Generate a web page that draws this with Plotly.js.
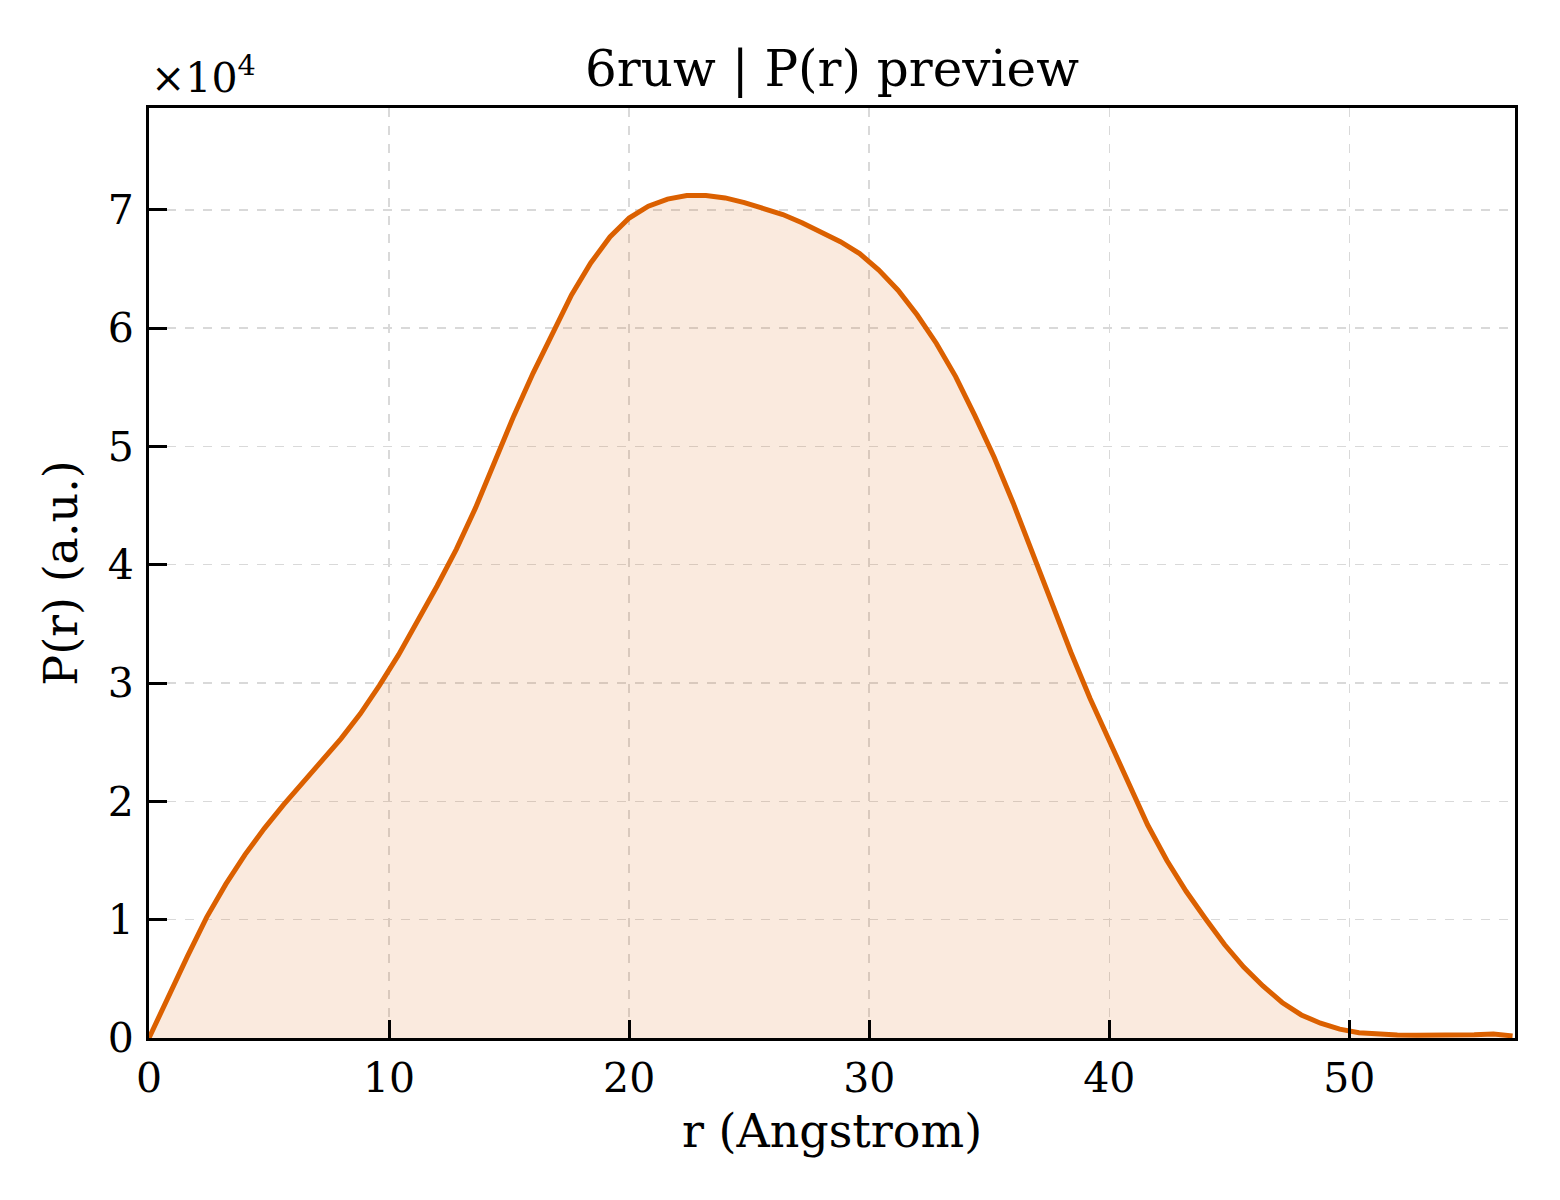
<!DOCTYPE html>
<html>
<head>
<meta charset="utf-8">
<script src="https://cdn.plot.ly/plotly-3.0.1.min.js"></script>
<style>
  html, body { margin: 0; padding: 0; background: #fff; }
  #paper { width: 1560px; height: 1200px; }
</style>
</head>
<body>
<div id="paper"></div>
<script>
"use strict"

// r in Angstrom
var r_values = [
    0, 0.8, 1.6, 2.4, 3.2, 4.0, 4.8, 5.6, 6.4, 7.2,
    8.0, 8.8, 9.6, 10.4, 11.2, 12.0, 12.8, 13.6, 14.4, 15.2,
    16.0, 16.8, 17.6, 18.4, 19.2, 20.0, 20.8, 21.6, 22.4, 23.2,
    24.0, 24.8, 25.6, 26.4, 27.2, 28.0, 28.8, 29.6, 30.4, 31.2,
    32.0, 32.8, 33.6, 34.4, 35.2, 36.0, 36.8, 37.6, 38.4, 39.2,
    40.0, 40.8, 41.6, 42.4, 43.2, 44.0, 44.8, 45.6, 46.4, 47.2,
    48.0, 48.8, 49.6, 50.4, 51.2, 52.0, 52.8, 53.6, 54.4, 55.2,
    56.0, 56.8
];

// P(r), arbitrary units
var pr_values = [
    0, 3500, 6900, 10200, 13000, 15500, 17700, 19700, 21600, 23400,
    25300, 27400, 29800, 32400, 35200, 38200, 41300, 44800, 48700, 52600,
    56200, 59600, 62800, 65500, 67700, 69300, 70300, 70900, 71200, 71200,
    71000, 70600, 70100, 69600, 68900, 68150, 67300, 66300, 64900, 63200,
    61100, 58700, 55900, 52600, 49100, 45200, 41000, 36800, 32600, 28700,
    25100, 21400, 18000, 15000, 12400, 10100, 7900, 6000, 4400, 3000,
    1950, 1250, 750, 450, 320, 260, 230, 220, 230, 270,
    330, 180
];

var x_ticks = [0, 10, 20, 30, 40, 50];
var y_ticks = [0, 10000, 20000, 30000, 40000, 50000, 60000, 70000];
var y_tick_labels = ["0", "1", "2", "3", "4", "5", "6", "7"];

var serif = "DejaVu Serif, Liberation Serif, serif";

var trace = {
    x: r_values,
    y: pr_values,
    type: 'scatter',
    mode: 'lines',
    line: {color: '#db6000', width: 5},
    fill: 'tozeroy',
    fillcolor: 'rgba(219,96,0,0.13)',
    hoverinfo: 'skip'
};

var axis_common = {
    showline: true,
    linecolor: '#000',
    linewidth: 3,
    mirror: true,
    ticks: 'inside',
    ticklen: 18,
    tickwidth: 3,
    tickcolor: '#000',
    showgrid: true,
    gridcolor: '#d9d9d9',
    gridwidth: 1.5,
    griddash: 'dash',
    zeroline: false,
    tickfont: {family: serif, size: 41, color: '#000'}
};

var layout = {
    width: 1560,
    height: 1200,
    paper_bgcolor: '#fff',
    plot_bgcolor: '#fff',
    showlegend: false,
    margin: {l: 149, r: 45, t: 108, b: 162},
    font: {family: serif, color: '#000'},
    title: {
        text: '6ruw | P(r) preview',
        font: {family: serif, size: 50, color: '#000'},
        x: 0.5 * (149 + 1515) / 1560,
        xanchor: 'center',
        y: 1 - 68 / 1200,
        yanchor: 'middle'
    },
    xaxis: Object.assign({}, axis_common, {
        range: [0, 56.9],
        tickvals: x_ticks,
        ticktext: x_ticks.map(String),
        ticklabelstandoff: 2,
        title: {text: 'r (Angstrom)', font: {family: serif, size: 46, color: '#000'}, standoff: 14}
    }),
    yaxis: Object.assign({}, axis_common, {
        range: [0, 78600],
        tickvals: y_ticks,
        ticktext: y_tick_labels,
        ticklabelstandoff: 4,
        title: {text: 'P(r) (a.u.)', font: {family: serif, size: 46, color: '#000'}, standoff: 16}
    }),
    annotations: [{
        text: '×10<sup>4</sup>',
        xref: 'paper', yref: 'paper',
        x: 0, y: 1,
        xanchor: 'left', yanchor: 'bottom',
        yshift: 4,
        showarrow: false,
        font: {family: serif, size: 41, color: '#000'}
    }]
};

Plotly.newPlot('paper', [trace], layout, {staticPlot: true, displayModeBar: false});
</script>
</body>
</html>
